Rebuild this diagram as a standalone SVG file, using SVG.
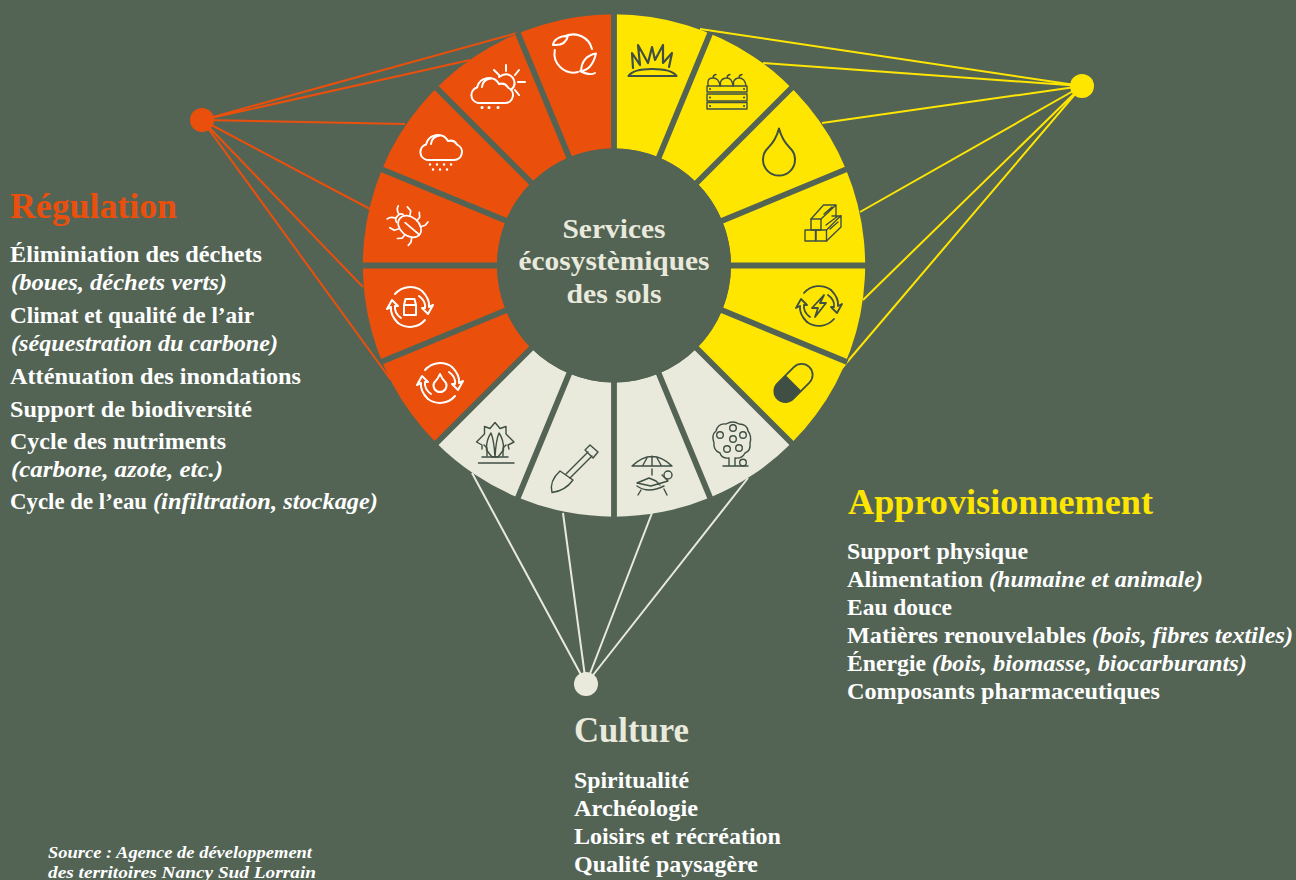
<svg xmlns="http://www.w3.org/2000/svg" width="1296" height="880" viewBox="0 0 1296 880">
<style>
text{font-family:"Liberation Serif","Times New Roman",serif;font-weight:700}
.b{font-size:23px;fill:#fff}
.i{font-size:23px;fill:#fff;font-style:italic}
.h{font-size:36px}
.c{font-size:28px;fill:#e9e9dc;text-anchor:middle}
.s{font-size:16.5px;fill:#fff;font-style:italic}
.or{fill:#ea4f0c}.ye{fill:#ffe600}.cr{fill:#e9e9dc}
.lo{stroke:#ea4f0c;stroke-width:2;fill:none}
.ly{stroke:#ffe600;stroke-width:2;fill:none}
.lc{stroke:#e9e9dc;stroke-width:2;fill:none}
.gap{stroke:#536455;stroke-width:5.8;fill:none}
.w{fill:none;stroke:#fff;stroke-width:2;stroke-linecap:round;stroke-linejoin:round}
.d{fill:none;stroke:#3f4f44;stroke-width:1.8;stroke-linecap:round;stroke-linejoin:round}
.t{stroke-width:1.4}
</style>
<defs>
<g id="cloud"><path d="M8 28H35A8 8 0 0 0 38 12.6A8 8 0 0 0 29 9A12 12 0 0 0 7 12.5A8 8 0 0 0 8 28Z"/><path d="M12 12Q13 4 21 3.5"/></g>
<g id="cycle"><g id="half"><path d="M-15-13A20 20 0 0 1 12-16"/><path d="M12-16Q20-8 19 0L23-2L18 7L12 1L15 1Q16-6 9-11"/></g><use href="#half" transform="rotate(180)"/></g>
</defs>
<rect width="1296" height="880" fill="#536455"/>
<g id="connectors">
<path class="lo" d="M202 120L517 33M202 120L470 60M202 120L405 124M202 120L370 209M202 120L363 287M202 120L391 380"/>
<path class="ly" d="M1082 86L700 29M1082 86L763 63M1082 86L822 123M1082 86L860 212M1082 86L863 300M1082 86L842 368"/>
<path class="lc" d="M586 684L472 473M586 684L563 513M586 684L652 513M586 684L748 478"/>
</g>
<g id="wheel">
<path id="regulation-arc" class="or" d="M614 14.300A251.200 251.200 0 0 0 436.400 443.100L531.300 348.200A117 117 0 0 1 614 148.500Z"/>
<path id="approvisionnement-arc" class="ye" d="M614 14.300A251.200 251.200 0 0 1 791.600 443.100L696.700 348.200A117 117 0 0 0 614 148.500Z"/>
<path id="culture-arc" class="cr" d="M436.400 443.100A251.200 251.200 0 0 0 791.600 443.100L696.700 348.200A117 117 0 0 1 531.300 348.200Z"/>
<path class="gap" d="M652.300 173.100L710.600 32.200M684.700 194.800L792.500 87M706.400 227.200L847.300 168.900M700 265.500H868M706.400 303.800L847.300 362.100M684.700 336.200L792.500 444M652.300 357.900L710.600 498.800M614 360V518M575.700 357.900L517.400 498.800M543.300 336.200L435.500 444M521.600 303.800L380.700 362.100M360 265.500H528M521.600 227.200L380.700 168.900M543.300 194.800L435.500 87M575.700 173.100L517.400 32.200M614 12V170"/>
<circle cx="614" cy="265.500" r="117" fill="#536455"/>
</g>
<g id="hub-regulation"><circle cx="202" cy="120" r="12" class="or"/></g>
<g id="hub-approvisionnement"><circle cx="1082" cy="86" r="12" class="ye"/></g>
<g id="hub-culture"><circle cx="586" cy="684" r="12" class="cr"/></g>

<g id="node-center">
<text class="c" x="614" y="238" textLength="103" lengthAdjust="spacingAndGlyphs">Services</text>
<text class="c" x="614" y="270" textLength="191" lengthAdjust="spacingAndGlyphs">écosystèmiques</text>
<text class="c" x="614" y="303" textLength="95" lengthAdjust="spacingAndGlyphs">des sols</text>
</g>

<g id="icon-leaves" class="w">
<path d="M565 36.500A19 19 0 0 1 592 49M554.800 50A19 19 0 0 0 578 72"/>
<path d="M553 45Q554 37 568 35.500Q566 46 553 45Z"/>
<path d="M596 53.500Q582 56 581 71Q592 70 596 53.500ZM580 71Q590 76 595 73"/>
</g>
<g id="icon-sun-cloud" class="w">
<use href="#cloud" transform="translate(470 75)"/>
<path d="M499 77Q507 71 513 78Q517 85 511 90M506 65V71M494 70L499 75M519 70L515 75M518 82H525M515 90L519 95"/>
<path d="M482 107.500h.1M489 107.500h.1M498 107.500h.1" stroke-width="3"/>
</g>
<g id="icon-rain-cloud" class="w">
<use href="#cloud" transform="translate(419 132)"/>
<path d="M430 164.500h.1M437 164.500h.1M444 164.500h.1M451 164.500h.1M433 169.500h.1M440 169.500h.1M447 169.500h.1" stroke-width="2.400"/>
</g>
<g id="icon-bug" class="w" transform="translate(409 226) rotate(40) scale(.85)">
<ellipse cx="1" cy="0" rx="15" ry="11"/>
<path d="M-6 0H16M-14-6Q-18-5-18 0Q-18 5-14 6M-18-3Q-24-5-25-10M-18 3Q-24 5-25 10M-7-10L-10-15L-16-16M-7 10L-10 15L-16 16M3-11L3-16L-1-20M3 11L3 16L-1 20M11-8L14-13L14-18M11 8L14 13L14 18"/>
</g>
<g id="icon-cycle-jar" class="w" transform="translate(410 307)">
<use href="#cycle"/><path d="M-6-2L-4.500-8H4.500L6-2V8H-6ZM-6-2H6"/>
</g>
<g id="icon-cycle-water" class="w" transform="translate(440 383)">
<use href="#cycle"/><path d="M0-9Q2-4 6 0A6.500 6.500 0 1 1-6 0Q-2-4 0-9Z"/>
</g>

<g id="icon-grass" class="d">
<path stroke-width="2.200" d="M633 68L632 53L640 65L638 45L648 63L652 47L655 60L663 45L663 63L672 53L669 67"/>
<path stroke-width="2.200" d="M628.500 76Q633 69 652 69Q672 69 676.500 76Z"/>
</g>
<g id="icon-crate" class="d t">
<rect x="707" y="86" width="40" height="6"/><rect x="707" y="94" width="40" height="7"/><rect x="707" y="102.500" width="40" height="6.500"/>
<path d="M708 86V82Q708 78 713 78Q719 78 720 86M720.500 86V82Q722 78 727 78Q732 78 733 86M733.500 86V82Q735 78 739 78Q745 78 746 86M713 78Q713 75 716 74.500M727 78Q727 75 730 74.500M739 78Q739 75 742 74.500"/>
<path d="M710 89h.1M744 89h.1M710 97.500h.1M744 97.500h.1M710 106h.1M744 106h.1" stroke-width="2"/>
</g>
<g id="icon-drop" class="d">
<path stroke-width="2" d="M779 128.500Q782 140 790 148A16 16 0 1 1 768 148Q776 140 779 128.500Z"/>
</g>
<g id="icon-wood" class="d t">
<rect x="805" y="230" width="10.500" height="11"/><rect x="816" y="230" width="10.500" height="11"/><rect x="811" y="219" width="10" height="11"/>
<path d="M811 219L823.500 205H836V216M821 219L836 205M826.500 230L841 215.500V227L826.500 241M832 216H841M826 225L838 216M824 214L832 207M830 229L838 222"/>
</g>
<g id="icon-bolt" class="d" transform="translate(819 306)">
<use href="#cycle"/><path d="M5-11L-7 2H-1L-4 11L7-3H1Z"/>
</g>
<g id="icon-capsule" transform="translate(793.500 383) rotate(-45)">
<path d="M0-11H-11.500A11 11 0 0 0-11.500 11H0Z" fill="#3f4f44"/>
<rect class="d" x="-22.500" y="-11" width="45" height="22" rx="11" stroke-width="2"/>
</g>

<g id="icon-tree-hands" class="d t">
<path d="M482 449V445L476.500 442L484.500 434V426.500L490 428.500L495 422.500L500 428.500L506 426.500V434L514 442L508 445L509 449M487 456V448L484 445M503 456V448L506 445"/>
<path d="M491 433Q486 440 486.500 450L492 457H498L503.500 450Q504 440 499 433Q496 440 495 457Q494 440 491 433Z"/>
<path d="M478.500 463H514M482 457H508"/>
</g>
<g id="icon-shovel" class="d t">
<path d="M560 471L573 480Q565 491 552 492.500Q549 481 560 471Z"/>
<path d="M566 474L588 452M570 478L592 456M585 450L590 445L598 452L593 458Z"/>
</g>
<g id="icon-lounger" class="d t">
<path d="M632 466Q652 447 672 466ZM643 465L647 458M652 465V456M661 465L657 458M652 469V475"/>
<circle cx="668" cy="475" r="4"/>
<path d="M637 483L651 486L668 481L662 475M637 483L649 478L656 481L660 485M637 486Q648 494 664 486M641 490L638 495M664 489L667 495"/>
</g>
<g id="icon-apple-tree" class="d t">
<path d="M729 458Q722 459 720 453Q713 450 714 443Q711 435 716 431Q718 423 726 424Q733 420 739 424Q747 424 748 431Q752 436 750 443Q751 451 745 453Q742 459 735 458M729 458V466M735 458V466M723 466H748"/>
<circle cx="720" cy="435" r="3.300"/><circle cx="733" cy="428" r="3.300"/><circle cx="743" cy="435" r="3.300"/><circle cx="733" cy="439" r="3.300"/><circle cx="727" cy="449" r="3.300"/><circle cx="739" cy="448" r="3.300"/><circle cx="743" cy="462.500" r="3.300"/>
</g>

<g id="list-regulation">
<text class="h or" x="10" y="218" textLength="167" lengthAdjust="spacingAndGlyphs">Régulation</text>
<text class="b" x="10" y="262" textLength="252" lengthAdjust="spacingAndGlyphs">Éliminiation des déchets</text>
<text class="i" x="11" y="290" textLength="216" lengthAdjust="spacingAndGlyphs">(boues, déchets verts)</text>
<text class="b" x="10" y="323" textLength="244" lengthAdjust="spacingAndGlyphs">Climat et qualité de l’air</text>
<text class="i" x="11" y="351" textLength="267" lengthAdjust="spacingAndGlyphs">(séquestration du carbone)</text>
<text class="b" x="10" y="384" textLength="291" lengthAdjust="spacingAndGlyphs">Atténuation des inondations</text>
<text class="b" x="10" y="417" textLength="242" lengthAdjust="spacingAndGlyphs">Support de biodiversité</text>
<text class="b" x="10" y="449" textLength="216" lengthAdjust="spacingAndGlyphs">Cycle des nutriments</text>
<text class="i" x="11" y="477" textLength="212" lengthAdjust="spacingAndGlyphs">(carbone, azote, etc.)</text>
<text class="b" x="10" y="509" textLength="137" lengthAdjust="spacingAndGlyphs">Cycle de l’eau</text>
<text class="i" x="153" y="509" textLength="225" lengthAdjust="spacingAndGlyphs">(infiltration, stockage)</text>
</g>
<g id="list-approvisionnement">
<text class="h ye" x="848" y="514" textLength="305" lengthAdjust="spacingAndGlyphs">Approvisionnement</text>
<text class="b" x="847" y="559" textLength="181" lengthAdjust="spacingAndGlyphs">Support physique</text>
<text class="b" x="847" y="587" textLength="136" lengthAdjust="spacingAndGlyphs">Alimentation</text>
<text class="i" x="989" y="587" textLength="214" lengthAdjust="spacingAndGlyphs">(humaine et animale)</text>
<text class="b" x="847" y="615" textLength="105" lengthAdjust="spacingAndGlyphs">Eau douce</text>
<text class="b" x="847" y="643" textLength="239" lengthAdjust="spacingAndGlyphs">Matières renouvelables</text>
<text class="i" x="1092" y="643" textLength="201" lengthAdjust="spacingAndGlyphs">(bois, fibres textiles)</text>
<text class="b" x="847" y="671" textLength="79" lengthAdjust="spacingAndGlyphs">Énergie</text>
<text class="i" x="932" y="671" textLength="315" lengthAdjust="spacingAndGlyphs">(bois, biomasse, biocarburants)</text>
<text class="b" x="847" y="699" textLength="313" lengthAdjust="spacingAndGlyphs">Composants pharmaceutiques</text>
</g>
<g id="list-culture">
<text class="h cr" x="574" y="742" textLength="115" lengthAdjust="spacingAndGlyphs">Culture</text>
<text class="b" x="574" y="788" textLength="115" lengthAdjust="spacingAndGlyphs">Spiritualité</text>
<text class="b" x="574" y="816" textLength="124" lengthAdjust="spacingAndGlyphs">Archéologie</text>
<text class="b" x="574" y="844" textLength="207" lengthAdjust="spacingAndGlyphs">Loisirs et récréation</text>
<text class="b" x="574" y="872" textLength="184" lengthAdjust="spacingAndGlyphs">Qualité paysagère</text>
</g>
<g id="source">
<text class="s" x="48" y="858" textLength="264" lengthAdjust="spacingAndGlyphs">Source : Agence de développement</text>
<text class="s" x="48" y="878" textLength="268" lengthAdjust="spacingAndGlyphs">des territoires Nancy Sud Lorrain</text>
</g>
</svg>
